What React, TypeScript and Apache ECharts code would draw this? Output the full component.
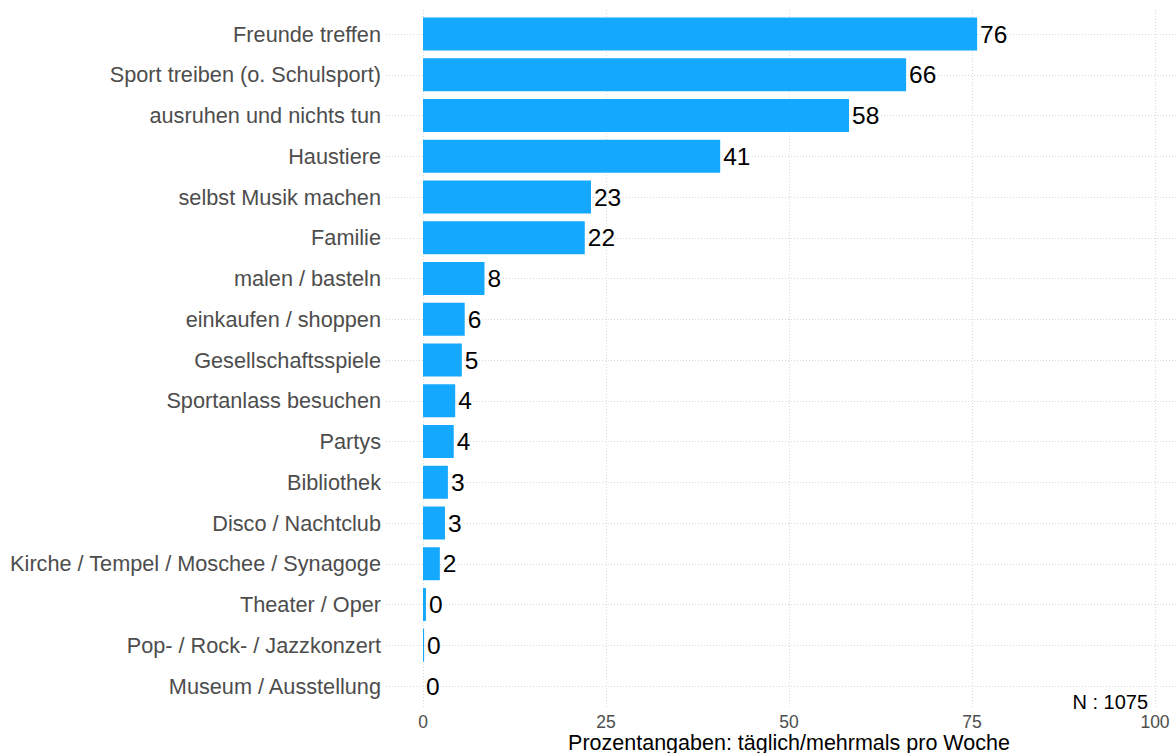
import React, { useEffect, useRef } from "react";
import * as echarts from "echarts";

const categories = [
  "Freunde treffen",
  "Sport treiben (o. Schulsport)",
  "ausruhen und nichts tun",
  "Haustiere",
  "selbst Musik machen",
  "Familie",
  "malen / basteln",
  "einkaufen / shoppen",
  "Gesellschaftsspiele",
  "Sportanlass besuchen",
  "Partys",
  "Bibliothek",
  "Disco / Nachtclub",
  "Kirche / Tempel / Moschee / Synagoge",
  "Theater / Oper",
  "Pop- / Rock- / Jazzkonzert",
  "Museum / Ausstellung",
];

const values = [75.7, 66.0, 58.2, 40.6, 22.95, 22.1, 8.4, 5.7, 5.3, 4.4, 4.2, 3.4, 3.0, 2.3, 0.4, 0.15, 0];

const xTicks = [0, 25, 50, 75, 100];

const xTitle = "Prozentangaben: täglich/mehrmals pro Woche";
const nNote = "N : 1075";

const FONT = "'Liberation Sans', Arial, Helvetica, sans-serif";
const GRID_COLOR = "#D9D9D9";

export default function App() {
  const ref = useRef<HTMLDivElement>(null);

  useEffect(() => {
    if (!ref.current) return;
    const chart = echarts.init(ref.current, null, { renderer: "svg" });
    const pxPerUnit = 732 / 100;
    const xMin2 = -(423 - 386) / pxPerUnit;
    const xMax2 = (1176 - 423) / pxPerUnit;
    chart.setOption({
      animation: false,
      backgroundColor: "#ffffff",
      textStyle: { fontFamily: FONT },
      grid: [
        { left: 423, right: 21, top: 10, bottom: 44, containLabel: false, outerBoundsMode: "none" },
        { left: 386, right: 0, top: 34, bottom: 67, containLabel: false, outerBoundsMode: "none" },
      ],
      xAxis: [
        {
          gridIndex: 0,
          type: "value",
          position: "bottom",
          min: xTicks[0],
          max: xTicks[xTicks.length - 1],
          interval: 25,
          axisLine: { show: false, onZero: false },
          axisTick: { show: false },
          axisLabel: { color: "#4D4D4D", fontSize: 17.5, margin: 4 },
          splitLine: {
            show: true,
            lineStyle: { color: GRID_COLOR, type: [1, 2], width: 1 },
          },
        },
        {
          gridIndex: 1,
          type: "value",
          min: xMin2,
          max: xMax2,
          show: false,
        },
      ],
      yAxis: [
        { gridIndex: 0, type: "value", min: 0, max: 1, show: false },
        {
          gridIndex: 1,
          type: "category",
          data: categories,
          inverse: true,
          boundaryGap: false,
          axisLine: { show: false },
          axisTick: { show: false },
          axisLabel: { color: "#4D4D4D", fontSize: 21.7, margin: 5, interval: 0 },
          splitLine: {
            show: true,
            interval: 0,
            lineStyle: { color: GRID_COLOR, type: [1, 2], width: 1 },
          },
        },
      ],
      series: [
        {
          type: "bar",
          xAxisIndex: 1,
          yAxisIndex: 1,
          data: values,
          barWidth: 33,
          itemStyle: { color: "#14A9FF" },
          label: {
            show: true,
            position: "right",
            distance: 3,
            color: "#000000",
            fontSize: 24.5,
            formatter: (p: any) => String(Math.round(p.value)),
          },
        },
      ],
      graphic: [
        {
          type: "text",
          x: 789,
          y: 743,
          style: {
            text: xTitle,
            fill: "#000000",
            fontSize: 21.5,
            fontFamily: FONT,
            align: "center",
            verticalAlign: "middle",
          },
        },
        {
          type: "text",
          right: 28,
          top: 692,
          style: {
            text: nNote,
            fill: "#000000",
            fontSize: 20,
            fontFamily: FONT,
          },
        },
      ],
    });
    return () => chart.dispose();
  }, []);

  return (
    <div
      ref={ref}
      style={{ position: "fixed", left: 0, top: 0, width: 1176, height: 753 }}
    />
  );
}
